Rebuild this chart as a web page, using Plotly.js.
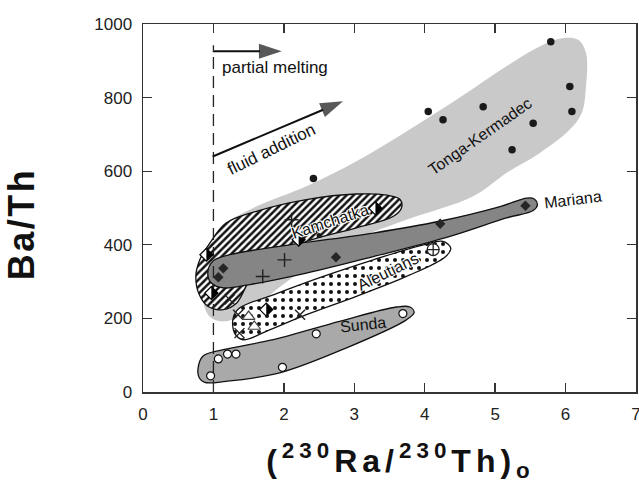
<!DOCTYPE html>
<html>
<head>
<meta charset="utf-8">
<script src="https://cdn.plot.ly/plotly-3.0.1.min.js"></script>
<style>
html,body{margin:0;padding:0;background:#fff;}
#chart{width:639px;height:483px;}
#chart .xtitle{letter-spacing:5px;}
#chart .ytitle{letter-spacing:2.5px;}
#chart .g-xtitle{transform:translate(11px,0px);}
#chart .g-ytitle{transform:translate(0px,16px);}
</style>
</head>
<body>
<div id="chart"></div>
<script>
// ---- Field outlines (data coordinates) ----
const tongaEnvX = [2.32, 3.03, 3.74, 4.45, 5.16, 5.63, 5.97, 6.18, 6.29, 6.29, 6.23, 6.06, 5.63, 5.16, 4.69, 3.74, 2.79, 2.08, 1.52, 1.18, 0.97, 0.876, 0.85, 0.876, 0.97, 1.18, 1.61, 2.32];
const tongaEnvY = [559, 627, 708, 794, 885, 939, 962, 957, 921, 830, 758, 713, 649, 595, 532, 468, 396, 305, 224, 192, 201, 228, 269, 359, 414, 459, 504, 559];

const kamEnvX = [2.32, 3.03, 3.46, 3.65, 3.67, 3.55, 3.03, 2.32, 1.85, 1.52, 1.33, 1.14, 0.92, 0.80, 0.75, 0.805, 0.95, 1.18, 1.61, 2.32];
const kamEnvY = [523, 538, 535, 523, 500, 477, 446, 409, 368, 305, 242, 224, 233, 264, 314, 359, 405, 459, 491, 523];

const marEnvX = [2.08, 3.27, 4.21, 5.07, 5.45, 5.56, 5.60, 5.54, 5.16, 4.36, 3.27, 2.32, 1.52, 1.14, 0.97, 0.92, 0.99, 1.23, 2.08];
const marEnvY = [400, 432, 464, 504, 527, 524, 509, 493, 473, 423, 368, 323, 292, 283, 296, 323, 355, 373, 400];

const aleEnvX = [2.56, 3.27, 3.98, 4.26, 4.37, 4.29, 3.74, 3.03, 2.32, 1.75, 1.42, 1.30, 1.28, 1.37, 1.85, 2.56];
const aleEnvY = [314, 359, 400, 409, 391, 367, 314, 260, 210, 165, 142, 160, 201, 228, 264, 314];

const sunEnvX = [1.85, 2.79, 3.60, 3.79, 3.85, 3.74, 2.89, 1.94, 1.18, 0.876, 0.80, 0.78, 0.85, 1.14, 1.85];
const sunEnvY = [142, 192, 231, 231, 216, 196, 120, 52, 29, 26, 38, 61, 97, 115, 142];

// ---- Data points ----
const tongaX = [5.79, 6.06, 6.09, 5.54, 5.24, 4.83, 4.05, 4.26, 2.42];
const tongaY = [952, 830, 762, 730, 658, 775, 762, 740, 580];
const smallDotX = [2.50];
const smallDotY = [425];

const marianaX = [5.43, 4.22, 2.74, 1.14, 1.07];
const marianaY = [506, 457, 366, 336, 312];

const kamX = [3.30, 2.21, 0.90, 0.97, 1.75];
const kamY = [499, 414, 373, 269, 224];

const plusX = [2.01, 1.70, 2.11];
const plusY = [359, 314, 468];

const crossX = [2.23, 1.35, 1.37, 1.23];
const crossY = [210, 210, 160, 251];

const triX = [1.50, 1.58];
const triY = [205, 178];

const circCrossX = [4.12];
const circCrossY = [387];

const sundaX = [3.69, 2.46, 1.98, 1.07, 1.20, 1.32, 0.96];
const sundaY = [213, 158, 67, 90, 103, 103, 44];

// ---- Labels / arrows ----
const fieldLabels = ['Tonga-Kermadec', 'Mariana', 'Kamchatka', 'Aleutians', 'Sunda'];
const fieldLabelX = [4.78, 6.11, 2.65, 3.48, 3.13];
const fieldLabelY = [695, 523, 464, 328, 183];
const fieldLabelAngle = [-35, -7, -18, -26, -6];

const meltArrowX = [0.99, 1.97];
const meltArrowY = [926, 926];
const fluidArrowX = [0.99, 2.84];
const fluidArrowY = [640, 790];
const refLineX = [1, 1];
const refLineY = [0, 942];

const FONT = 'Liberation Sans, Arial, Helvetica, sans-serif';

function env(x, y, color, extra) {
  return Object.assign({
    type: 'scatter', mode: 'lines', x: x, y: y, fill: 'toself',
    fillcolor: color, line: {color: '#111', width: 1.3, shape: 'spline', smoothing: 1},
    hoverinfo: 'skip', showlegend: false
  }, extra || {});
}

function arrow(x, y) {
  return {type: 'scatter', mode: 'lines+markers', x: x, y: y, showlegend: false, hoverinfo: 'skip',
    line: {color: '#111', width: 2},
    marker: {symbol: ['circle', 'arrow'], size: [0, 24], angleref: 'previous', color: '#111', line: {width: 0}}};
}

const traces = [
  env(tongaEnvX, tongaEnvY, '#c9c9c9', {line: {width: 0, color: 'rgba(0,0,0,0)', shape: 'spline', smoothing: 1}}),
  env(kamEnvX, kamEnvY, '#ffffff', {fillpattern: {shape: '/', fgcolor: '#111', bgcolor: '#ffffff', size: 5, solidity: 0.5}}),
  env(marEnvX, marEnvY, '#858585'),
  env(aleEnvX, aleEnvY, '#ffffff', {fillpattern: {shape: '.', fgcolor: '#111', bgcolor: '#ffffff', size: 8, solidity: 0.2}}),
  env(sunEnvX, sunEnvY, '#a9a9a9'),
  {type: 'scatter', mode: 'lines', x: refLineX, y: refLineY, showlegend: false, hoverinfo: 'skip',
   line: {color: '#222', width: 1.3, dash: '12px,7px'}},
  arrow(meltArrowX, meltArrowY),
  arrow(fluidArrowX, fluidArrowY),
  {type: 'scatter', mode: 'markers', x: tongaX, y: tongaY, name: 'Tonga-Kermadec',
   marker: {symbol: 'circle', size: 7.5, color: '#1a1a1a'}, showlegend: false},
  {type: 'scatter', mode: 'markers', x: smallDotX, y: smallDotY,
   marker: {symbol: 'circle', size: 5, color: '#1a1a1a'}, showlegend: false},
  {type: 'scatter', mode: 'markers', x: marianaX, y: marianaY, name: 'Mariana',
   marker: {symbol: 'diamond', size: 8, color: '#262626'}, showlegend: false},
  {type: 'scatter', mode: 'markers', x: kamX, y: kamY, name: 'Kamchatka',
   marker: {symbol: 'diamond', size: 10, color: '#ffffff', line: {color: '#000', width: 1.2}}, showlegend: false},
  {type: 'scatter', mode: 'markers', x: plusX, y: plusY,
   marker: {symbol: 'cross-thin', size: 10, color: '#222', line: {color: '#222', width: 1.4}}, showlegend: false},
  {type: 'scatter', mode: 'markers', x: crossX, y: crossY,
   marker: {symbol: 'x-thin', size: 10, color: '#222', line: {color: '#222', width: 1.4}}, showlegend: false},
  {type: 'scatter', mode: 'markers', x: triX, y: triY,
   marker: {symbol: 'triangle-up', size: 11, color: '#ffffff', line: {color: '#444', width: 1.2}}, showlegend: false},
  {type: 'scatter', mode: 'markers', x: circCrossX, y: circCrossY,
   marker: {symbol: 'circle-cross', size: 12, color: '#ffffff', line: {color: '#222', width: 1.3}}, showlegend: false},
  {type: 'scatter', mode: 'markers', x: sundaX, y: sundaY, name: 'Sunda',
   marker: {symbol: 'circle', size: 8, color: '#ffffff', line: {color: '#111', width: 1.2}}, showlegend: false}
];

// right (black) halves of the Kamchatka diamonds, anchored at the data points
const halfDiamonds = kamX.map((x, i) => ({
  type: 'path', xref: 'x', yref: 'y', xsizemode: 'pixel', ysizemode: 'pixel',
  xanchor: x, yanchor: kamY[i], path: 'M0,6.5 L6.5,0 L0,-6.5 Z',
  fillcolor: '#000', line: {width: 0}, layer: 'above'
}));

const halo = '1px 1px 0 #fff, -1px -1px 0 #fff, 1px -1px 0 #fff, -1px 1px 0 #fff';
const annotations = fieldLabels.map((t, i) => ({
  x: fieldLabelX[i], y: fieldLabelY[i], xref: 'x', yref: 'y', text: t, showarrow: false,
  textangle: fieldLabelAngle[i],
  font: {family: FONT, size: 16, color: '#111', shadow: (i === 2 || i === 3) ? halo : 'none'}
}));
annotations.push({x: 1.88, y: 882, xref: 'x', yref: 'y', text: 'partial melting', showarrow: false,
  font: {family: FONT, size: 17, color: '#111'}});
annotations.push({x: 1.82, y: 658, xref: 'x', yref: 'y', text: 'fluid addition', showarrow: false,
  textangle: -26, font: {family: FONT, size: 17, color: '#111'}});

const axisCommon = {
  showline: true, linecolor: '#333', linewidth: 1.5, mirror: 'ticks',
  ticks: 'inside', ticklen: 9, tickwidth: 1.3, tickcolor: '#333',
  showgrid: false, zeroline: false,
  tickfont: {family: FONT, size: 17, color: '#222'}
};

const layout = {
  width: 639, height: 483,
  margin: {l: 143.3, r: 3, t: 24.3, b: 90.7},
  paper_bgcolor: '#fff', plot_bgcolor: '#fff',
  showlegend: false,
  xaxis: Object.assign({}, axisCommon, {
    range: [0, 7], dtick: 1, tick0: 0, ticklabelstandoff: 6, ticklabeloverflow: 'allow',
    title: {text: '(<sup>230</sup>Ra/<sup>230</sup>Th)<sub>o</sub>',
            font: {family: FONT, size: 32, color: '#111', weight: 700}, standoff: 26}
  }),
  yaxis: Object.assign({}, axisCommon, {
    range: [0, 1000], dtick: 200, tick0: 0, ticklabelstandoff: 6,
    title: {text: 'Ba/Th', font: {family: FONT, size: 36, color: '#111', weight: 700}, standoff: 48}
  }),
  shapes: halfDiamonds,
  annotations: annotations
};

Plotly.newPlot('chart', traces, layout, {displayModeBar: false, staticPlot: true});
</script>
</body>
</html>
